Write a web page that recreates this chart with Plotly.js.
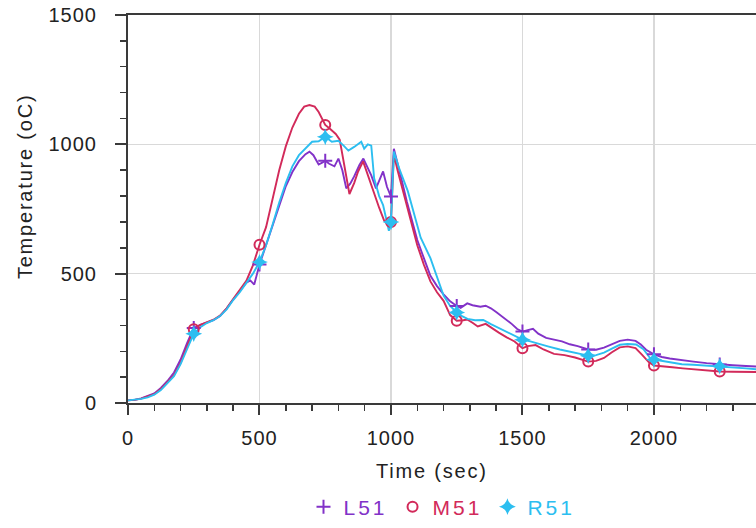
<!DOCTYPE html>
<html><head><meta charset="utf-8">
<script src="https://cdn.plot.ly/plotly-3.0.1.min.js"></script>
<style>
html,body{margin:0;padding:0;background:#fff;}
#chart{width:756px;height:528px;}
.legendtext{letter-spacing:3px;}
.xtick text,.ytick text{letter-spacing:1px;}
.annotation-text{letter-spacing:1.8px;}
</style></head><body><div id="chart"></div>
<script>
const seriesNames = ['L51', 'M51', 'R51'];
const seriesColors = ['#8232C8', '#D22A5A', '#2CBEF0'];
const xTitle = 'Time (sec)';
const yTitle = 'Temperature (oC)';

const timeL51 = [0,25,50,75,100,125,150,175,200,225,250,275,300,325,350,375,400,425,450,465,480,500,525,550,575,600,625,650,675,690,705,725,740,750,765,785,800,815,830,845,860,880,895,910,925,943,955,970,985,1000,1011,1025,1040,1060,1080,1100,1125,1150,1175,1200,1225,1250,1265,1290,1310,1340,1360,1380,1400,1430,1460,1480,1500,1520,1540,1560,1590,1620,1650,1680,1710,1750,1780,1810,1840,1870,1900,1930,1950,1970,2000,2030,2060,2100,2150,2200,2250,2300,2350,2390];
const tempL51 = [10,12,18,26,37,58,85,118,168,232,290,302,312,320,336,365,400,432,465,474,458,535,612,690,768,838,893,935,962,972,958,922,930,937,925,915,945,900,830,848,876,920,945,912,880,830,858,895,835,798,983,930,865,780,700,630,560,492,452,420,393,375,368,385,378,372,376,366,352,330,305,286,276,282,287,268,252,245,238,227,220,207,206,214,228,240,245,240,226,206,188,178,172,166,160,154,149,146,143,141];

const timeM51 = [0,25,50,75,100,125,150,175,200,225,250,275,300,325,350,375,400,425,450,475,500,525,550,575,600,625,650,670,690,710,725,740,750,770,790,805,815,825,842,860,875,894,915,936,955,974,990,1000,1011,1025,1040,1060,1080,1100,1125,1150,1175,1200,1225,1250,1275,1290,1310,1330,1360,1380,1410,1440,1470,1500,1520,1550,1580,1620,1660,1700,1750,1780,1810,1840,1870,1900,1930,1955,1980,2000,2030,2070,2110,2150,2200,2250,2300,2350,2390];
const tempM51 = [10,12,17,24,34,54,80,108,155,220,285,302,313,322,338,366,402,435,472,532,612,680,790,900,992,1065,1118,1146,1152,1146,1125,1095,1075,1058,1040,1018,960,895,808,850,895,934,870,805,755,705,692,700,960,900,840,762,685,610,535,470,428,395,340,318,320,323,310,296,306,292,272,254,238,212,220,224,207,190,185,176,160,163,174,196,215,219,212,186,158,145,143,138,134,130,126,122,121,120,120];

const timeR51 = [0,25,50,75,100,125,150,175,200,225,250,275,300,325,350,375,400,425,450,475,500,525,550,575,600,625,650,675,700,725,750,775,800,820,838,860,887,898,912,925,936,955,970,992,1000,1011,1030,1064,1090,1113,1150,1177,1200,1225,1250,1270,1291,1320,1351,1380,1426,1460,1500,1530,1555,1600,1642,1700,1750,1780,1810,1840,1870,1900,1932,1960,1985,2000,2050,2106,2150,2200,2250,2300,2350,2390];
const tempR51 = [10,12,16,22,32,50,76,104,150,208,268,293,309,320,336,362,398,428,465,500,545,610,690,775,850,915,958,985,1010,1012,1029,1010,1014,995,976,990,1010,983,1000,995,869,800,765,666,700,972,910,819,720,639,560,480,415,375,350,336,325,320,321,305,283,265,245,238,230,218,207,195,183,185,195,210,225,228,226,208,174,168,160,150,148,145,142,138,134,130];

const xTickVals = [0, 500, 1000, 1500, 2000];
const yTickVals = [0, 500, 1000, 1500];
const markerEvery = 250;

const times = [timeL51, timeM51, timeR51];
const temps = [tempL51, tempM51, tempR51];
const symbols = ['cross-thin', 'circle-open', 'star-diamond'];
const symSizes = [10, 10, 12];

const traces = [];
for (let i = 0; i < 3; i++) {
  traces.push({
    x: times[i], y: temps[i], type: 'scatter', mode: 'lines',
    line: {color: seriesColors[i], width: 1.9},
    showlegend: false, hoverinfo: 'skip'
  });
}
for (let i = 0; i < 3; i++) {
  const mx = [], my = [];
  times[i].forEach((t, k) => { if (t > 0 && t % markerEvery === 0) { mx.push(t); my.push(temps[i][k]); } });
  traces.push({
    x: mx, y: my, type: 'scatter', mode: 'markers',
    name: '<span style="color:' + seriesColors[i] + '">' + seriesNames[i] + '</span>',
    marker: {symbol: symbols[i], size: symSizes[i], color: seriesColors[i],
             line: {color: seriesColors[i], width: i === 2 ? 0 : 2}}
  });
}

const fontFam = 'Liberation Sans, Arial, sans-serif';
const layout = {
  width: 756, height: 528,
  margin: {l: 128, r: 0, t: 15, b: 121},
  paper_bgcolor: '#fff', plot_bgcolor: '#fff',
  font: {family: fontFam, color: '#222'},
  showlegend: true,
  legend: {orientation: 'h', x: 0.5, xanchor: 'center', y: -0.268, yanchor: 'middle',
           font: {size: 21, family: fontFam}, itemwidth: 30, tracegroupgap: 0},
  annotations: [
    {text: xTitle, xref: 'paper', yref: 'paper', x: 0.484, y: -0.176, xanchor: 'center', yanchor: 'middle',
     showarrow: false, font: {size: 20, family: fontFam, color: '#222'}},
    {text: yTitle, xref: 'paper', yref: 'paper', x: -0.164, y: 0.559, xanchor: 'center', yanchor: 'middle',
     textangle: -90, showarrow: false, font: {size: 20, family: fontFam, color: '#222'}}
  ],
  xaxis: {
    range: [0, 2388], tickvals: xTickVals, ticktext: xTickVals.map(String),
    showgrid: true, gridcolor: '#d9d9d9', gridwidth: 1.5,
    showline: true, linecolor: '#3a3a3a', linewidth: 2, mirror: true,
    ticks: 'outside', ticklen: 10, tickwidth: 2, tickcolor: '#3a3a3a',
    minor: {dtick: 100, tick0: 0, ticks: 'outside', ticklen: 6, tickwidth: 1.5, tickcolor: '#3a3a3a', showgrid: false},
    tickfont: {size: 20, family: fontFam, color: '#222'},
    ticklabelstandoff: 6,
    zeroline: false
  },
  yaxis: {
    range: [0, 1500], tickvals: yTickVals, ticktext: yTickVals.map(String),
    showgrid: true, gridcolor: '#d9d9d9', gridwidth: 1.5,
    showline: true, linecolor: '#3a3a3a', linewidth: 2,
    ticks: 'outside', ticklen: 11, tickwidth: 2, tickcolor: '#3a3a3a',
    minor: {dtick: 100, tick0: 0, ticks: 'outside', ticklen: 6, tickwidth: 1.5, tickcolor: '#3a3a3a', showgrid: false},
    tickfont: {size: 20, family: fontFam, color: '#222'},
    ticklabelstandoff: 14,
    zeroline: false
  }
};

Plotly.newPlot('chart', traces, layout, {displayModeBar: false, staticPlot: true});
</script></body></html>
